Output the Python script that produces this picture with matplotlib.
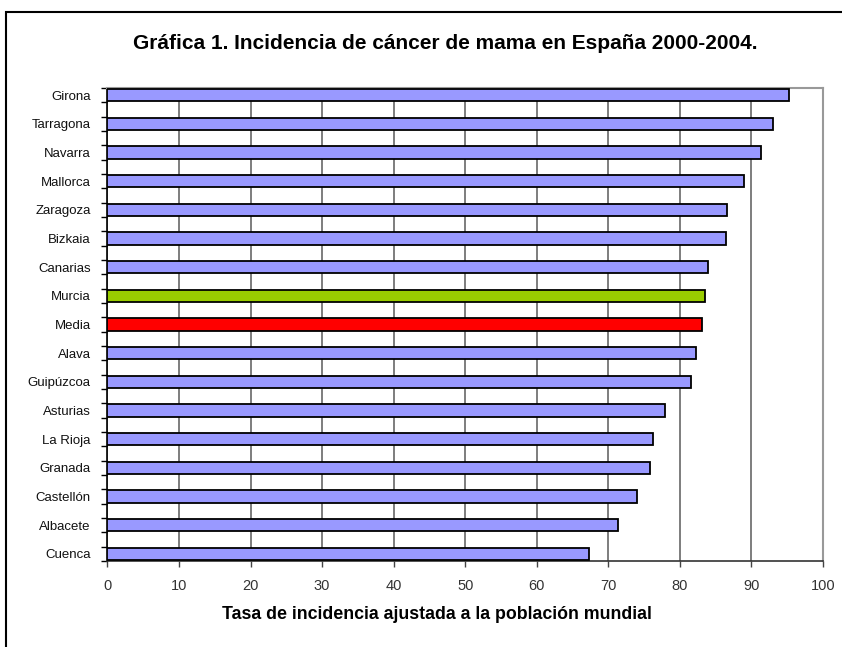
"""
Incidencia de cancer de mama en Espana 2000-2004, barras horizontales
"""
import matplotlib.pyplot as plt
from matplotlib.patches import Rectangle

plt.rcParams['font.family'] = ['Liberation Sans', 'DejaVu Sans']

# datos (de arriba a abajo)
provincias = ['Girona', 'Tarragona', 'Navarra', 'Mallorca', 'Zaragoza', 'Bizkaia',
              'Canarias', 'Murcia', 'Media', 'Alava', 'Guipúzcoa', 'Asturias',
              'La Rioja', 'Granada', 'Castellón', 'Albacete', 'Cuenca']
tasas = [95.3, 93.0, 91.3, 88.9, 86.6, 86.5, 83.9, 83.5, 83.1, 82.2, 81.6,
         77.9, 76.2, 75.8, 74.0, 71.3, 67.3]
xticks = list(range(0, 101, 10))

colores = []
for p in provincias:
    if p == 'Murcia':
        colores.append('#99CC00')
    elif p == 'Media':
        colores.append('#FF0000')
    else:
        colores.append('#9999FF')

fig = plt.figure(figsize=(8.42, 6.47), dpi=100)
# marco negro exterior
fig.patches.append(Rectangle((6 / 842, -0.05), 1.0, 1 - 12 / 647 + 0.05,
                             transform=fig.transFigure, fill=False,
                             edgecolor='black', linewidth=1.5))

ax = fig.add_axes([0.1276, 0.1329, 0.8498, 0.7311])
n = len(provincias)
# en la hoja original hay una fila vacia entre cada provincia
nslots = 2 * n - 1
ypos = [nslots - 1 - 2 * i for i in range(n)]
ax.barh(ypos, tasas, height=0.84, color=colores, edgecolor='black',
        linewidth=1.3, zorder=3)

ax.set_xlim(0, 100)
ax.set_ylim(-0.5, nslots - 0.5)
ax.set_xticks(xticks)
ax.set_xticklabels([str(t) for t in xticks], fontsize=10.5, color='#333333')
ax.xaxis.grid(True, color='#5a5a5a', linewidth=1.1, zorder=0)

ax.set_yticks(ypos)
ax.set_yticklabels(provincias, fontsize=9.5, color='#111111')
ax.tick_params(axis='y', length=0, pad=12)
# marcas entre filas
ax.set_yticks([i - 0.5 for i in range(nslots + 1)], minor=True)
ax.tick_params(axis='y', which='minor', length=4, width=1, color='black')
ax.tick_params(axis='x', length=4, width=1, color='#444444', pad=9)

for lado in ['top', 'right']:
    ax.spines[lado].set_color('#999999')
    ax.spines[lado].set_linewidth(1.5)
ax.spines['left'].set_color('black')
ax.spines['left'].set_linewidth(1.2)
ax.spines['bottom'].set_color('#333333')
ax.spines['bottom'].set_linewidth(1.2)

fig.text(0.5285, 0.9335, 'Gráfica 1. Incidencia de cáncer de mama en España 2000-2004.',
         ha='center', va='center', fontsize=15, weight='bold')
fig.text(0.519, 0.051, 'Tasa de incidencia ajustada a la población mundial',
         ha='center', va='center', fontsize=12.8, weight='bold')

plt.savefig('out.png', dpi=100)
